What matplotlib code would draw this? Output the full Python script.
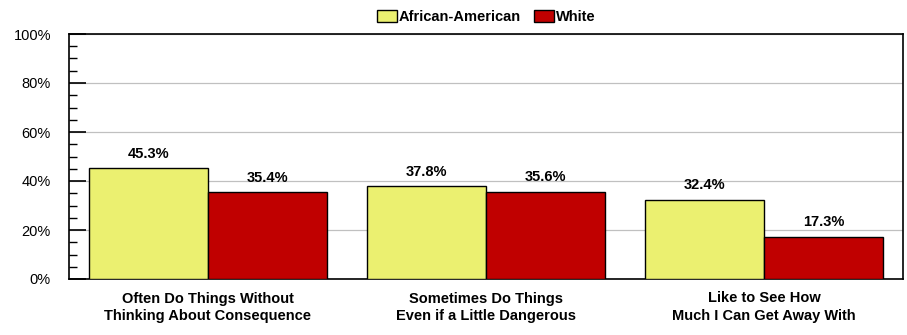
import numpy as np
import matplotlib.pyplot as plt
from matplotlib.ticker import MultipleLocator, PercentFormatter

plt.rcParams['font.family'] = ['Liberation Sans', 'DejaVu Sans']

categories = ["Often Do Things Without\nThinking About Consequence",
              "Sometimes Do Things\nEven if a Little Dangerous",
              "Like to See How\nMuch I Can Get Away With"]
african_american = [45.3, 37.8, 32.4]
white = [35.4, 35.6, 17.3]
series_names = ["African-American", "White"]

fig = plt.figure(figsize=(9.07, 3.35), dpi=100)
ax = fig.add_axes([69 / 907, 1 - 279 / 335, (903 - 69) / 907, (279 - 34) / 335])

x = np.arange(len(categories))
w = 0.428
b1 = ax.bar(x - w / 2, african_american, w, color="#ebf070", edgecolor="black", lw=1.0,
            label=series_names[0], zorder=3)
b2 = ax.bar(x + w / 2, white, w, color="#c00000", edgecolor="black", lw=1.0,
            label=series_names[1], zorder=3)

# value labels above each bar
for bars, vals in ((b1, african_american), (b2, white)):
    for rect, v in zip(bars, vals):
        ax.text(rect.get_x() + rect.get_width() / 2, v + 3.0, f"{v:.1f}%",
                ha="center", va="bottom", fontsize=10.5, fontweight="bold")

ax.set_xlim(-0.5, 2.5)
ax.set_ylim(0, 100)
ax.yaxis.set_major_locator(MultipleLocator(20))
ax.yaxis.set_minor_locator(MultipleLocator(5))
ax.yaxis.set_major_formatter(PercentFormatter(decimals=0))
ax.tick_params(axis="y", which="major", direction="in", length=12, width=1.2, labelsize=10.5, pad=13)
ax.tick_params(axis="y", which="minor", direction="in", length=6, width=1.0)
ax.grid(axis="y", which="major", color="#c0c0c0", lw=0.9, zorder=0)

ax.set_xticks(x)
ax.set_xticklabels(categories, fontsize=10.5, fontweight="bold", linespacing=1.3)
ax.tick_params(axis="x", length=0, pad=9)

for s in ax.spines.values():
    s.set_linewidth(1.2)

ax.legend(loc="lower center", bbox_to_anchor=(0.5, 1.0), ncol=2, frameon=False,
          prop={"weight": "bold", "size": 10.5}, handlelength=1.4, handleheight=0.9,
          handletextpad=0.1, columnspacing=0.9, borderaxespad=0.3)

fig.savefig("out.png", dpi=100)
